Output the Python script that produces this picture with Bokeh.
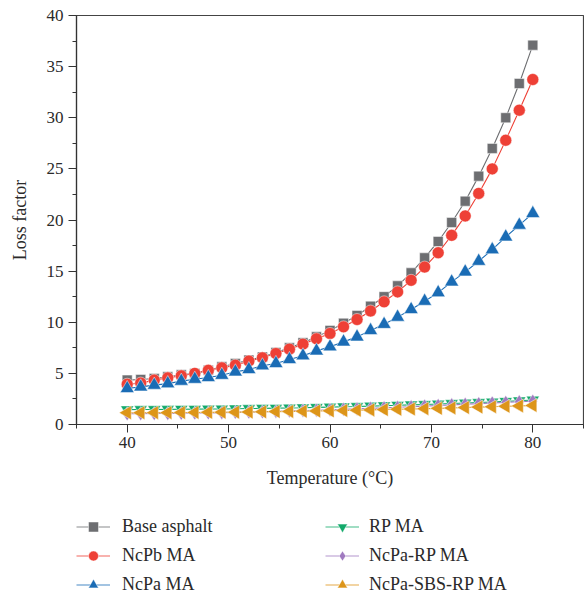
from bokeh.plotting import figure
from bokeh.layouts import column
from bokeh.models import Legend, LegendItem, Range1d, FixedTicker
from bokeh.embed import file_html
from bokeh.resources import INLINE

temperature = [40 + i * 4 / 3 for i in range(31)]

base_asphalt = [4.34, 4.40, 4.50, 4.66, 4.86, 5.00, 5.30, 5.64, 5.97, 6.30,
                6.60, 7.04, 7.50, 8.00, 8.57, 9.20, 9.90, 10.66, 11.57, 12.50,
                13.56, 14.83, 16.30, 17.90, 19.76, 21.84, 24.29, 27.00, 30.00, 33.35, 37.10]
ncpb_ma = [3.94, 4.05, 4.34, 4.56, 4.76, 5.00, 5.30, 5.54, 5.80, 6.20,
           6.52, 6.94, 7.37, 7.86, 8.38, 8.90, 9.55, 10.27, 11.10, 12.00,
           12.97, 14.10, 15.40, 16.80, 18.50, 20.40, 22.60, 25.00, 27.80, 30.74, 33.74]
ncpa_ma = [3.52, 3.68, 3.85, 4.00, 4.24, 4.43, 4.60, 4.82, 5.15, 5.38,
           5.74, 5.97, 6.36, 6.72, 7.20, 7.60, 8.08, 8.57, 9.20, 9.80,
           10.50, 11.25, 12.06, 12.90, 13.95, 14.93, 15.97, 17.10, 18.35, 19.50, 20.64]
rp_ma = [1.45, 1.46, 1.47, 1.48, 1.49, 1.50, 1.51, 1.52, 1.54, 1.56,
         1.58, 1.60, 1.62, 1.64, 1.67, 1.70, 1.73, 1.76, 1.80, 1.84,
         1.88, 1.92, 1.96, 2.00, 2.05, 2.10, 2.15, 2.20, 2.26, 2.32, 2.40]
ncpa_rp_ma = [1.05, 1.06, 1.07, 1.08, 1.10, 1.12, 1.14, 1.16, 1.19, 1.22,
              1.25, 1.28, 1.32, 1.36, 1.40, 1.44, 1.48, 1.53, 1.58, 1.63,
              1.68, 1.74, 1.80, 1.86, 1.92, 1.98, 2.04, 2.10, 2.16, 2.22, 2.28]
ncpa_sbs_rp_ma = [1.15, 1.15, 1.16, 1.16, 1.17, 1.18, 1.19, 1.20, 1.21, 1.22,
                  1.24, 1.26, 1.28, 1.30, 1.32, 1.34, 1.37, 1.40, 1.43, 1.46,
                  1.49, 1.52, 1.55, 1.58, 1.62, 1.66, 1.70, 1.74, 1.78, 1.82, 1.86]

series = [
    ("Base asphalt", base_asphalt, "#6d6e71", "square", 10),
    ("NcPb MA", ncpb_ma, "#ee4036", "circle", 12),
    ("NcPa MA", ncpa_ma, "#1a6cb5", "triangle", 14),
    ("RP MA", rp_ma, "#12a96a", "inverted_triangle", 13),
    ("NcPa-RP MA", ncpa_rp_ma, "#a07ac0", "diamond", 14),
    ("NcPa-SBS-RP MA", ncpa_sbs_rp_ma, "#dd9519", "triangle", 14),
]

FONT = "Liberation Serif"

p = figure(width=584, height=494, output_backend="svg", toolbar_location=None,
           x_range=Range1d(35, 85), y_range=Range1d(0, 40),
           min_border_left=76, min_border_right=1, min_border_top=15,
           min_border_bottom=70)

p.grid.visible = False
p.outline_line_color = "#444444"
p.outline_line_width = 1.2

for ax in (p.xaxis[0], p.yaxis[0]):
    ax.axis_line_color = "#333333"
    ax.axis_line_width = 1.2
    ax.major_tick_line_color = "#333333"
    ax.minor_tick_line_color = "#333333"
    ax.major_tick_in = 0
    ax.major_tick_out = 8
    ax.minor_tick_in = 0
    ax.minor_tick_out = 4
    ax.major_label_text_font = FONT
    ax.major_label_text_font_size = "17px"
    ax.major_label_text_color = "#2a2a2a"
    ax.axis_label_text_font = FONT
    ax.axis_label_text_font_size = "18px"
    ax.axis_label_text_font_style = "normal"
    ax.axis_label_text_color = "#2a2a2a"

p.xaxis.ticker = FixedTicker(ticks=[40, 50, 60, 70, 80], minor_ticks=[35, 45, 55, 65, 75, 85])
p.yaxis.ticker = FixedTicker(ticks=list(range(0, 41, 5)),
                             minor_ticks=[2.5 + 5 * k for k in range(8)])
p.xaxis.axis_label = "Temperature (°C)"
p.yaxis.axis_label = "Loss factor"
p.xaxis.major_label_standoff = 4
p.xaxis.axis_label_standoff = 17
p.yaxis.major_label_standoff = 5
p.yaxis.axis_label_standoff = 14

# legend-only figure below the chart (its data lie outside its ranges, so only the legend shows)
q = figure(width=584, height=105, output_backend="svg", toolbar_location=None,
           x_axis_location=None, y_axis_location=None,
           x_range=Range1d(0, 1), y_range=Range1d(0, 1),
           min_border_left=0, min_border_right=0, min_border_top=0, min_border_bottom=0)
q.grid.visible = False
q.outline_line_color = None

items = []
for name, vals, color, marker, size in series:
    kw = {}
    if name == "NcPa-SBS-RP MA":
        kw["angle"] = 1.5708
    p.line(temperature, vals, line_color=color, line_width=1.1)
    p.scatter(temperature, vals, marker=marker, size=size, fill_color=color,
              line_color="white", line_width=0.6, line_alpha=0.8, **kw)
    ln = q.line(temperature, vals, line_color=color, line_width=1.1, line_alpha=0.8)
    sc = q.scatter(temperature, vals, marker=marker, size=size, fill_color=color,
                   line_color="white", line_width=0.6, line_alpha=0.8, **kw)
    items.append(LegendItem(label=name, renderers=[ln, sc]))

common = dict(border_line_color=None, background_fill_alpha=0, padding=0, margin=0,
              glyph_width=34, glyph_height=25, label_text_font=FONT,
              label_text_font_size="18px", label_text_color="#2a2a2a",
              spacing=4, label_height=25)

leg1 = Legend(items=items[:3], location=(0, 2), label_standoff=12, **common)
leg2 = Legend(items=items[3:], location=(249, 2), label_standoff=10, **common)
q.add_layout(leg1, "center")
q.add_layout(leg2, "center")

layout = column(p, q, spacing=0)
open("out.html", "w").write(file_html(layout, INLINE))
